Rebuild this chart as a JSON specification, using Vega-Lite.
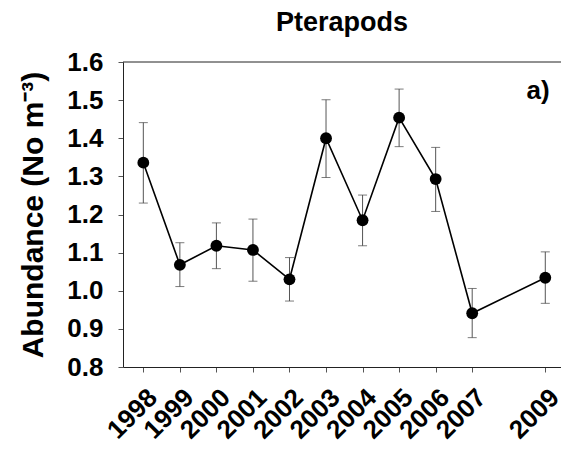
{
  "$schema": "https://vega.github.io/schema/vega-lite/v6.json",
  "width": 438,
  "height": 305,
  "autosize": {"type": "none"},
  "padding": {"left": 123, "top": 62, "right": 0, "bottom": 83},
  "background": "white",
  "title": {
    "text": "Pterapods",
    "font": "Liberation Sans",
    "fontSize": 27,
    "fontWeight": "bold",
    "color": "black",
    "anchor": "middle",
    "offset": 12
  },
  "config": {
    "view": {"stroke": null},
    "axis": {
      "grid": false,
      "labelFont": "Liberation Sans",
      "labelFontSize": 26,
      "labelFontWeight": "bold",
      "labelColor": "black",
      "labelOverlap": false,
      "titleFont": "Liberation Sans",
      "titleFontSize": 30,
      "titleFontWeight": "bold",
      "titleColor": "black",
      "domainColor": "#222",
      "tickColor": "#555",
      "tickSize": 5
    }
  },
  "data": {
    "values": [
      {"year": 1998, "abundance": 1.336, "lo": 1.230, "hi": 1.441},
      {"year": 1999, "abundance": 1.068, "lo": 1.011, "hi": 1.126},
      {"year": 2000, "abundance": 1.118, "lo": 1.058, "hi": 1.178},
      {"year": 2001, "abundance": 1.107, "lo": 1.025, "hi": 1.188},
      {"year": 2002, "abundance": 1.030, "lo": 0.973, "hi": 1.087},
      {"year": 2003, "abundance": 1.400, "lo": 1.297, "hi": 1.501},
      {"year": 2004, "abundance": 1.185, "lo": 1.118, "hi": 1.251},
      {"year": 2005, "abundance": 1.454, "lo": 1.378, "hi": 1.529},
      {"year": 2006, "abundance": 1.293, "lo": 1.208, "hi": 1.376},
      {"year": 2007, "abundance": 0.941, "lo": 0.877, "hi": 1.006},
      {"year": 2009, "abundance": 1.034, "lo": 0.967, "hi": 1.102}
    ]
  },
  "encoding": {
    "x": {
      "field": "year",
      "type": "quantitative",
      "scale": {"domain": [1997.444, 2009.43], "nice": false, "zero": false},
      "axis": {
        "title": null,
        "values": [1998, 1999, 2000, 2001, 2002, 2003, 2004, 2005, 2006, 2007, 2009],
        "format": "d",
        "labelAngle": -45,
        "labelPadding": 12,
        "labelFlush": false,
        "labelOverlap": false
      }
    },
    "y": {
      "field": "abundance",
      "type": "quantitative",
      "scale": {"domain": [0.8, 1.6], "nice": false, "zero": false},
      "axis": {
        "title": "Abundance (No m⁻³)",
        "values": [0.8, 0.9, 1.0, 1.1, 1.2, 1.3, 1.4, 1.5, 1.6],
        "format": ".1f",
        "labelOverlap": false,
        "labelPadding": 15,
        "titlePadding": 18
      }
    }
  },
  "layer": [
    {
      "mark": {"type": "rule", "color": "#555", "strokeWidth": 1},
      "encoding": {"y": {"field": "lo", "type": "quantitative"}, "y2": {"field": "hi"}}
    },
    {
      "mark": {"type": "tick", "color": "#444", "size": 9, "thickness": 1, "orient": "horizontal"},
      "encoding": {"y": {"field": "lo", "type": "quantitative"}}
    },
    {
      "mark": {"type": "tick", "color": "#444", "size": 9, "thickness": 1, "orient": "horizontal"},
      "encoding": {"y": {"field": "hi", "type": "quantitative"}}
    },
    {
      "data": {"values": [{"top": 1.6}]},
      "mark": {"type": "rule", "color": "#222", "strokeWidth": 1},
      "encoding": {"x": null, "y": {"field": "top", "type": "quantitative"}}
    },
    {
      "mark": {"type": "line", "color": "black", "strokeWidth": 1.6},
      "encoding": {}
    },
    {
      "mark": {"type": "point", "filled": true, "color": "black", "size": 140, "opacity": 1},
      "encoding": {}
    },
    {
      "data": {"values": [{"year": 2008.8, "abundance": 1.524, "label": "a)"}]},
      "mark": {"type": "text", "font": "Liberation Sans", "fontSize": 26, "fontWeight": "bold", "color": "black", "align": "center", "baseline": "middle"},
      "encoding": {"text": {"field": "label"}}
    }
  ]
}
